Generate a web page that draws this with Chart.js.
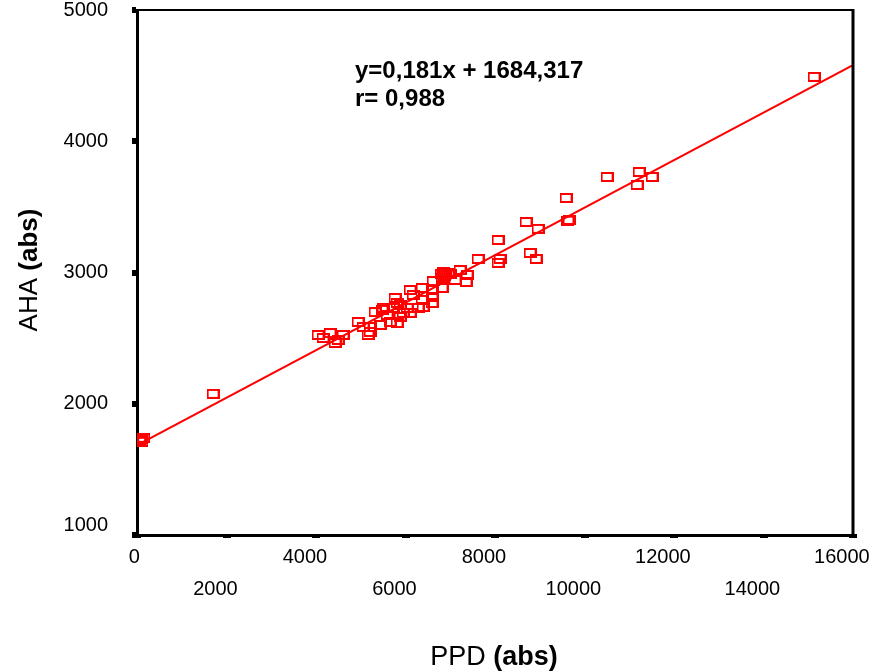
<!DOCTYPE html>
<html><head><meta charset="utf-8">
<script src="https://cdn.jsdelivr.net/npm/chart.js@4/dist/chart.umd.min.js"></script>
<style>html,body{margin:0;padding:0;background:#fff;}</style>
</head><body>
<canvas id="c" width="875" height="672"></canvas>
<script>
// ---- data ----
const ppd = [60,100,150,110,1700,
  4045,4313,4157,4425,4492,4604,4939,5051,5208,5163,5208,5431,5319,5476,5655,5811,5878,5811,5945,
  5766,5878,6035,5722,5498,5588,6102,6280,6102,6169,6370,6593,6817,6616,7107,7353,7376,6593,6370,6392,6593,
  6800,6850,6900,6950,6880,7000,6820,7220,
  7621,8068,8113,8068,8784,8918,8694,8962,9588,9655,9630,
  10505,11220,11175,11510,15131];
const aha = [1720,1730,1740,1710,2075,
  2524,2539,2501,2463,2486,2524,2623,2585,2585,2524,2547,2600,2699,2715,2623,2615,2661,2768,2692,
  2806,2753,2730,2730,2730,2676,2692,2730,2867,2829,2882,2867,2882,2935,2943,2928,2981,2814,2791,2737,2768,
  2990,3005,2995,3000,2975,2985,2960,3019,
  3103,3248,3103,3073,3149,3103,3385,3332,3568,3400,3395,
  3728,3766,3667,3728,4490];
const fitX = [100, 16000];
const fitY = [1702, 4580];
const xTicks = [0,2000,4000,6000,8000,10000,12000,14000,16000];
const yTicks = [1000,2000,3000,4000,5000];
const eqLines = ['y=0,181x + 1684,317', 'r= 0,988'];
const xTitle = ['PPD ', '(abs)'];
const yTitle = ['AHA ', '(abs)'];

const FONT = '"Liberation Sans", Arial, sans-serif';

// hollow rectangular marker
const mk = document.createElement('canvas');
mk.width = 13; mk.height = 10;
const m = mk.getContext('2d');
m.strokeStyle = '#ff0000'; m.lineWidth = 2; m.strokeRect(1, 1, 11, 8);

const points = ppd.map((x, i) => ({x: x, y: aha[i]}));
const fitLine = fitX.map((x, i) => ({x: x, y: fitY[i]}));

const deco = {
  id: 'deco',
  afterDraw(chart) {
    const {ctx, chartArea: a} = chart;
    ctx.save();
    ctx.strokeStyle = '#000';
    ctx.lineWidth = 2;
    ctx.beginPath(); ctx.moveTo(a.left, a.top); ctx.lineTo(a.right + 1, a.top); ctx.stroke();
    ctx.lineWidth = 3;
    ctx.beginPath(); ctx.moveTo(a.right, a.top - 1); ctx.lineTo(a.right, a.bottom + 1); ctx.stroke();

    ctx.fillStyle = '#000';
    ctx.textAlign = 'left';
    ctx.textBaseline = 'alphabetic';
    ctx.font = 'bold 24px ' + FONT;
    ctx.fillText(eqLines[0], 355, 78);
    ctx.fillText(eqLines[1], 355, 106);

    // x title
    const fN = '27px ' + FONT, fB = 'bold 27px ' + FONT;
    ctx.font = fN; const w1 = ctx.measureText(xTitle[0]).width;
    ctx.font = fB; const w2 = ctx.measureText(xTitle[1]).width;
    let x0 = 494 - (w1 + w2) / 2;
    ctx.font = fN; ctx.fillText(xTitle[0], x0, 665);
    ctx.font = fB; ctx.fillText(xTitle[1], x0 + w1, 665);

    // y title
    const gN = '26px ' + FONT, gB = 'bold 26px ' + FONT;
    ctx.translate(37, 270);
    ctx.rotate(-Math.PI / 2);
    ctx.font = gN; const v1 = ctx.measureText(yTitle[0]).width;
    ctx.font = gB; const v2 = ctx.measureText(yTitle[1]).width;
    x0 = -(v1 + v2) / 2;
    ctx.font = gN; ctx.fillText(yTitle[0], x0, 0);
    ctx.font = gB; ctx.fillText(yTitle[1], x0 + v1, 0);
    ctx.restore();
  }
};

new Chart(document.getElementById('c'), {
  type: 'scatter',
  data: {
    datasets: [
      {data: points, pointStyle: mk, pointRadius: 6, borderColor: '#ff0000', backgroundColor: 'rgba(0,0,0,0)', order: 1},
      {type: 'line', data: fitLine, showLine: true, borderColor: '#ff0000', borderWidth: 2.2, pointRadius: 0, fill: false, order: 2}
    ]
  },
  options: {
    responsive: false,
    animation: false,
    devicePixelRatio: 1,
    layout: {padding: {top: 10, right: 22, left: 0, bottom: 0}},
    plugins: {legend: {display: false}, tooltip: {enabled: false}},
    scales: {
      x: {
        type: 'linear', min: 0, max: 16000,
        afterBuildTicks(s) { s.ticks = xTicks.map(v => ({value: v})); },
        afterFit(s) { s.height = 137; s.paddingLeft = 0; s.paddingRight = 0; },
        border: {display: true, color: '#000', width: 3},
        grid: {drawOnChartArea: false, drawTicks: true, tickLength: 3, lineWidth: 8, color: '#000'},
        ticks: {
          color: '#000', padding: 3, maxRotation: 0, autoSkip: false,
          font: {family: FONT, size: 20, lineHeight: 1.6},
          callback(v, i) {
            const t = String(v) + (v === 0 ? ' ' : '    ');
            return i % 2 === 0 ? [t, ''] : ['', t];
          }
        }
      },
      y: {
        type: 'linear', min: 1000, max: 5000,
        afterBuildTicks(s) { s.ticks = yTicks.map(v => ({value: v})); },
        afterFit(s) { s.width = 137; s.paddingTop = 0; s.paddingBottom = 0; },
        border: {display: true, color: '#000', width: 3},
        grid: {drawOnChartArea: false, drawTicks: true, tickLength: 5, lineWidth: 6, color: '#000'},
        ticks: {
          color: '#000', padding: 24, font: {family: FONT, size: 20, lineHeight: 1.0},
          callback: (v, i) => i === 0 ? [String(v), ''] : String(v)
        }
      }
    }
  },
  plugins: [deco]
});
</script>
</body></html>
